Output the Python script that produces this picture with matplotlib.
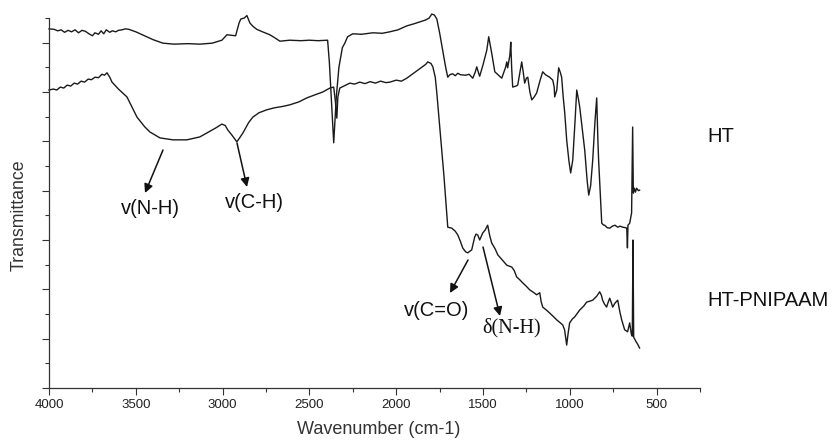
import matplotlib
matplotlib.use("Agg")
import matplotlib.pyplot as plt
from matplotlib.ticker import MultipleLocator

plt.rcParams['font.family'] = ['Liberation Sans', 'DejaVu Sans']

# ---------------- data ----------------
ht_wn = [4000, 3970, 3950, 3930, 3910, 3890, 3870, 3850, 3830, 3810, 3790, 3770, 3750, 3735,
         3715, 3700, 3685, 3670, 3650, 3635, 3615, 3600, 3580, 3560, 3540, 3500, 3450, 3400,
         3344, 3280, 3200, 3131, 3060, 3004, 2985, 2975, 2950, 2925, 2905, 2895, 2875, 2860,
         2850, 2843, 2825, 2803, 2770, 2728, 2700, 2670, 2613, 2550, 2500, 2450, 2395, 2385,
         2370, 2360, 2345, 2330, 2310, 2296, 2280, 2250, 2200, 2135, 2080, 2037, 1990, 1939,
         1900, 1864, 1830, 1810, 1795, 1780, 1766, 1750, 1735, 1715, 1703, 1691, 1675, 1660,
         1645, 1630, 1600, 1580, 1559, 1545, 1536, 1525, 1519, 1500, 1478, 1467, 1458, 1450,
         1432, 1410, 1392, 1370, 1363, 1358, 1345, 1340, 1335, 1329, 1310, 1300, 1285, 1277,
         1268, 1260, 1250, 1242, 1230, 1219, 1205, 1191, 1170, 1156, 1140, 1116, 1098, 1090,
         1087, 1075, 1064, 1055, 1047, 1038, 1029, 1018, 1005, 995, 983, 970, 960, 950, 943,
         930, 914, 900, 891, 880, 868, 855, 845, 838, 834, 825, 816, 805, 799, 785, 770, 755,
         740, 724, 710, 695, 680, 672, 668, 665, 655, 644, 638, 634, 628, 622, 615, 605, 598]
ht_t = [7.28, 7.27, 7.24, 7.26, 7.21, 7.25, 7.22, 7.26, 7.20, 7.25, 7.23, 7.18, 7.14, 7.20,
        7.17, 7.24, 7.18, 7.26, 7.21, 7.24, 7.22, 7.25, 7.26, 7.28, 7.27, 7.22, 7.14, 7.06,
        6.99, 6.97, 6.98, 6.97, 6.99, 7.05, 7.12, 7.16, 7.15, 7.14, 7.40, 7.48, 7.50, 7.55,
        7.46, 7.40, 7.33, 7.27, 7.22, 7.16, 7.10, 7.03, 7.05, 7.04, 7.05, 7.04, 7.05, 6.60,
        5.60, 4.97, 5.90, 6.50, 6.90, 6.99, 7.12, 7.18, 7.17, 7.20, 7.19, 7.22, 7.26, 7.34,
        7.38, 7.42, 7.46, 7.50, 7.58, 7.56, 7.48, 7.20, 6.90, 6.50, 6.30, 6.35, 6.37, 6.33,
        6.38, 6.35, 6.34, 6.36, 6.28, 6.40, 6.51, 6.38, 6.32, 6.55, 6.85, 7.12, 6.95, 6.79,
        6.41, 6.34, 6.28, 6.50, 6.61, 6.49, 6.75, 7.01, 6.50, 6.10, 6.12, 6.14, 6.45, 6.61,
        6.40, 6.18, 6.28, 6.30, 6.00, 5.84, 5.90, 5.98, 6.25, 6.41, 6.35, 6.30, 6.24, 6.10,
        5.90, 6.04, 6.49, 6.40, 6.30, 5.90, 5.57, 5.03, 4.60, 4.36, 4.62, 5.40, 6.04, 5.85, 5.70,
        5.30, 4.82, 4.20, 3.91, 4.10, 4.62, 5.40, 5.88, 5.00, 4.62, 4.00, 3.34, 3.30, 3.30, 3.25,
        3.24, 3.28, 3.30, 3.26, 3.28, 3.26, 3.25, 3.24, 2.84, 3.30, 3.34, 3.55, 5.29, 3.95, 4.05,
        3.97, 4.05, 4.00, 4.01]

pn_wn = [4000, 3975, 3955, 3935, 3915, 3895, 3875, 3855, 3835, 3815, 3795, 3775, 3755, 3735,
         3715, 3695, 3680, 3666, 3650, 3637, 3600, 3551, 3493, 3450, 3419, 3361, 3286, 3206,
         3131, 3090, 3040, 3004, 2985, 2970, 2945, 2918, 2900, 2883, 2850, 2826, 2790, 2745,
         2700, 2650, 2613, 2560, 2515, 2470, 2423, 2382, 2360, 2350, 2342, 2336, 2325, 2313,
         2290, 2267, 2240, 2210, 2180, 2150, 2120, 2090, 2060, 2037, 2000, 1970, 1939, 1900,
         1860, 1830, 1818, 1800, 1789, 1775, 1766, 1749, 1725, 1703, 1680, 1660, 1645, 1630,
         1617, 1600, 1588, 1565, 1548, 1540, 1530, 1519, 1502, 1488, 1473, 1462, 1450, 1430,
         1415, 1390, 1363, 1334, 1320, 1306, 1290, 1271, 1250, 1231, 1210, 1191, 1173, 1165,
         1156, 1135, 1116, 1095, 1075, 1055, 1041, 1030, 1018, 1010, 1001, 985, 972, 955, 943,
         920, 903, 885, 868, 845, 828, 818, 811, 800, 788, 778, 770, 760, 753, 740, 724, 712,
         701, 690, 684, 667, 655, 646, 640, 636, 632, 620, 608, 598]
pn_t = [6.04, 6.06, 6.04, 6.10, 6.08, 6.14, 6.12, 6.18, 6.16, 6.22, 6.20, 6.26, 6.25, 6.30,
        6.29, 6.36, 6.34, 6.39, 6.30, 6.20, 6.06, 5.90, 5.49, 5.30, 5.19, 5.07, 5.03, 5.03,
        5.09, 5.17, 5.27, 5.35, 5.32, 5.23, 5.12, 4.99, 5.08, 5.17, 5.38, 5.49, 5.58, 5.64,
        5.68, 5.71, 5.74, 5.80, 5.88, 5.94, 6.00, 6.08, 6.10, 5.80, 5.47, 5.90, 6.08, 6.10,
        6.14, 6.18, 6.16, 6.20, 6.17, 6.21, 6.18, 6.22, 6.19, 6.20, 6.24, 6.22, 6.28, 6.38,
        6.48, 6.56, 6.61, 6.58, 6.51, 6.30, 5.98, 5.29, 4.30, 3.26, 3.24, 3.18, 3.10, 2.97,
        2.84, 2.76, 2.74, 2.80, 3.06, 3.12, 3.10, 3.00, 3.14, 3.20, 3.30, 3.10, 2.94, 2.82,
        2.70, 2.60, 2.49, 2.45, 2.38, 2.25, 2.20, 2.13, 2.06, 1.99, 1.94, 1.89, 1.93, 1.75,
        1.64, 1.58, 1.52, 1.45, 1.38, 1.32, 1.28, 1.18, 0.87, 1.10, 1.32, 1.40, 1.44, 1.52, 1.58,
        1.66, 1.74, 1.76, 1.78, 1.86, 1.95, 1.88, 1.78, 1.70, 1.64, 1.75, 1.82, 1.72, 1.64, 1.72,
        1.78, 1.55, 1.38, 1.25, 1.18, 1.14, 1.32, 1.10, 1.05, 3.00, 1.03, 0.95, 0.88, 0.81]

x_major = [4000, 3500, 3000, 2500, 2000, 1500, 1000, 500]
x_labels = ["4000", "3500", "3000", "2500", "2000", "1500", "1000", "500"]
series_names = ["HT", "HT-PNIPAAM"]

# ---------------- figure ----------------
W, H = 840, 441
fig = plt.figure(figsize=(W / 100, H / 100), dpi=100)
ax = fig.add_axes([49 / W, 53 / H, 651 / W, 370 / H])

line_kw = dict(color='#1a1a1a', lw=1.0, clip_on=False)
ax.plot(ht_wn, ht_t, **line_kw)
ax.plot(pn_wn, pn_t, **line_kw)

ax.set_xlim(4000, 250)
ax.set_ylim(0, 7.5)
ax.set_xticks(x_major)
ax.set_xticklabels(x_labels)
ax.xaxis.set_minor_locator(MultipleLocator(250))
ax.yaxis.set_major_locator(MultipleLocator(1))
ax.yaxis.set_minor_locator(MultipleLocator(0.5))
ax.set_yticklabels([])
for s in ['top', 'right']:
    ax.spines[s].set_visible(False)
for s in ['left', 'bottom']:
    ax.spines[s].set_color('#333333')
    ax.spines[s].set_linewidth(0.9)
ax.tick_params(which='major', length=5, width=0.8, color='#333333',
               labelsize=9.5, labelcolor='#222222', pad=3)
ax.tick_params(which='minor', length=3, width=0.8, color='#333333')

def fx(px):
    return px / W

def fy(py):
    return 1 - py / H

fig.text(fx(19), fy(215), "Transmittance", rotation=90, ha='center', va='center',
         fontsize=12.8, color='#333333')
fig.text(fx(379), fy(430), "Wavenumber (cm-1)", ha='center', va='center',
         fontsize=13, color='#333333')

fig.text(fx(707), fy(137), series_names[0], ha='left', va='center', fontsize=14.5, color='#111111')
fig.text(fx(707), fy(300), series_names[1], ha='left', va='center', fontsize=14.5, color='#111111')

arrow = dict(arrowstyle='-|>', color='#111111', lw=1.1, mutation_scale=13, shrinkA=0, shrinkB=0)

def annot(text, txy, a0, a1, family=None):
    ax.annotate('', xy=(fx(a1[0]), fy(a1[1])), xytext=(fx(a0[0]), fy(a0[1])),
                xycoords='figure fraction', textcoords='figure fraction',
                arrowprops=arrow, annotation_clip=False)
    kw = dict(ha='center', va='center', fontsize=14.5, color='#111111')
    if family:
        kw['family'] = family
    fig.text(fx(txy[0]), fy(txy[1]), text, **kw)

annot("v(N-H)", (150, 209), (163, 150), (145, 193))
annot("v(C-H)", (254, 203), (237, 143), (247, 187))
annot("v(C=O)", (437, 310), (468, 260), (450, 293))
annot("\u03b4(N-H)", (512, 328), (483, 247), (500, 316), family=['Liberation Serif', 'DejaVu Serif'])

fig.savefig("out.png", dpi=100)
